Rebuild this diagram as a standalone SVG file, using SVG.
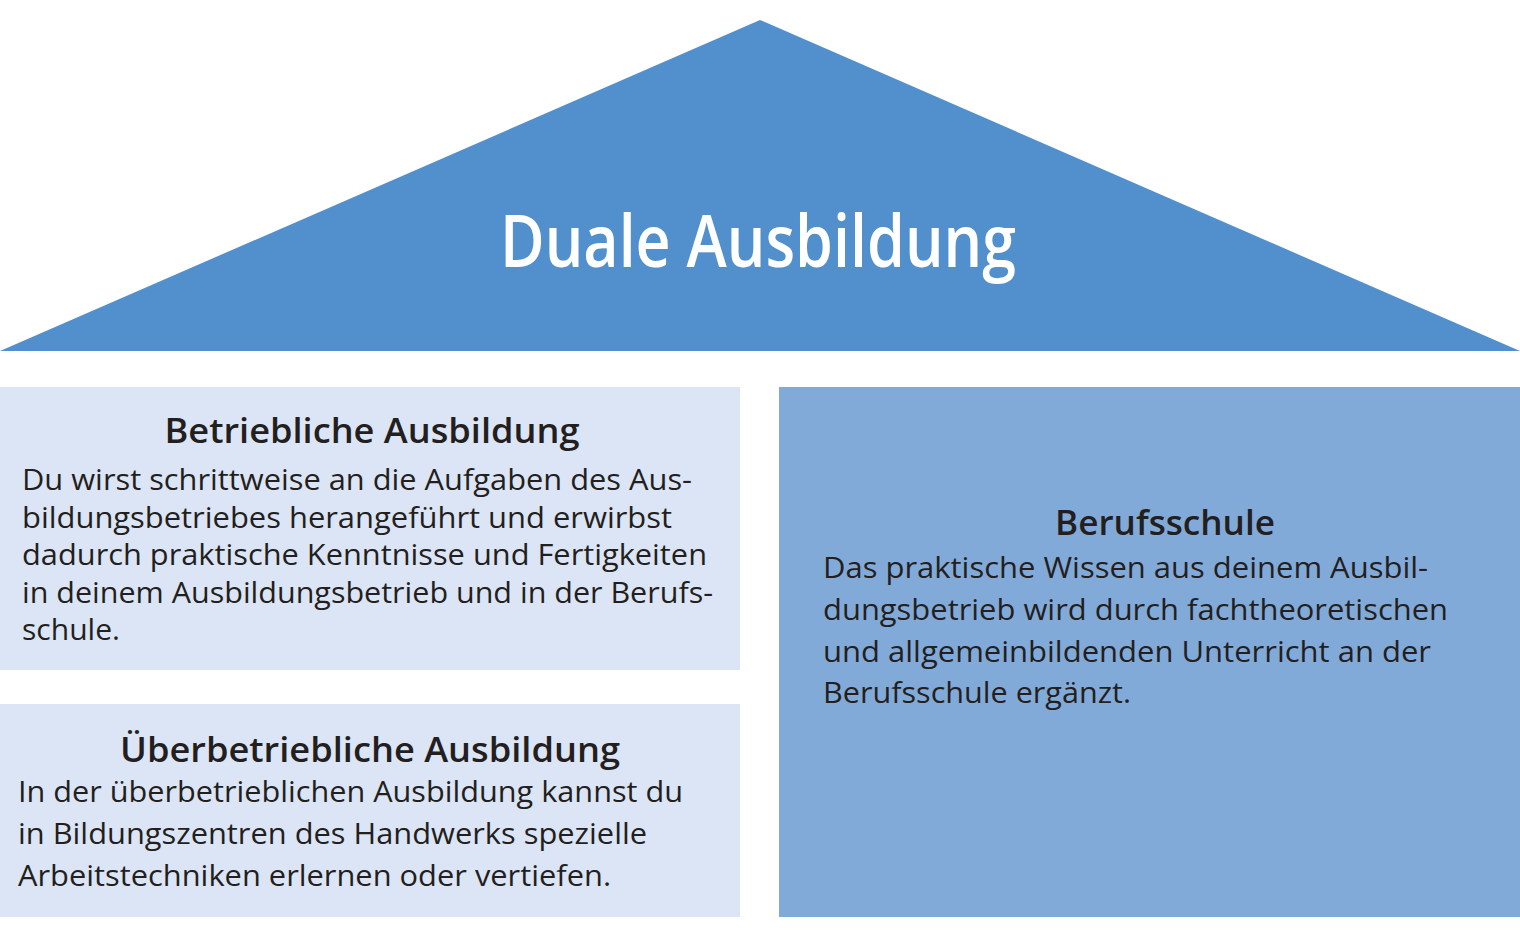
<svg xmlns="http://www.w3.org/2000/svg" width="1520" height="948" viewBox="0 0 1520 948">
<style>
text{font-family:"Open Sans","Noto Sans","Liberation Sans",sans-serif;fill:#231f20}
.h{font-size:35px;font-weight:600;text-anchor:middle}
.b{font-size:30px}
.t{font-size:72px;font-weight:600;fill:#fff;text-anchor:middle}
</style>
<rect width="1520" height="948" fill="#fff"/>
<g id="roof">
<polygon points="760,20 1520,351 0,351" fill="#5290cd"/>
<text class="t" x="758" y="267" textLength="516" lengthAdjust="spacingAndGlyphs">Duale Ausbildung</text>
</g>
<g id="betrieb">
<rect x="0" y="387" width="740" height="283" fill="#dce5f5"/>
<text class="h" x="372" y="443" textLength="415" lengthAdjust="spacingAndGlyphs">Betriebliche Ausbildung</text>
<text class="b" x="22" y="490" textLength="670" lengthAdjust="spacingAndGlyphs">Du wirst schrittweise an die Aufgaben des Aus-</text>
<text class="b" x="22" y="528" textLength="650" lengthAdjust="spacingAndGlyphs">bildungsbetriebes herangeführt und erwirbst</text>
<text class="b" x="22" y="565" textLength="685" lengthAdjust="spacingAndGlyphs">dadurch praktische Kenntnisse und Fertigkeiten</text>
<text class="b" x="22" y="603" textLength="691" lengthAdjust="spacingAndGlyphs">in deinem Ausbildungsbetrieb und in der Berufs-</text>
<text class="b" x="22" y="640" textLength="98" lengthAdjust="spacingAndGlyphs">schule.</text>
</g>
<g id="ueberbetrieb">
<rect x="0" y="704" width="740" height="213" fill="#dce5f5"/>
<text class="h" x="370" y="762" textLength="500" lengthAdjust="spacingAndGlyphs">Überbetriebliche Ausbildung</text>
<text class="b" x="18" y="802" textLength="665" lengthAdjust="spacingAndGlyphs">In der überbetrieblichen Ausbildung kannst du</text>
<text class="b" x="18" y="844" textLength="629" lengthAdjust="spacingAndGlyphs">in Bildungszentren des Handwerks spezielle</text>
<text class="b" x="18" y="886" textLength="593" lengthAdjust="spacingAndGlyphs">Arbeitstechniken erlernen oder vertiefen.</text>
</g>
<g id="berufsschule">
<rect x="779" y="387" width="741" height="530" fill="#82aad9"/>
<text class="h" x="1165" y="535" textLength="220" lengthAdjust="spacingAndGlyphs">Berufsschule</text>
<text class="b" x="823" y="578" textLength="605" lengthAdjust="spacingAndGlyphs">Das praktische Wissen aus deinem Ausbil-</text>
<text class="b" x="823" y="620" textLength="625" lengthAdjust="spacingAndGlyphs">dungsbetrieb wird durch fachtheoretischen</text>
<text class="b" x="823" y="662" textLength="608" lengthAdjust="spacingAndGlyphs">und allgemeinbildenden Unterricht an der</text>
<text class="b" x="823" y="703" textLength="308" lengthAdjust="spacingAndGlyphs">Berufsschule ergänzt.</text>
</g>
<g id="connectors"></g>
</svg>
